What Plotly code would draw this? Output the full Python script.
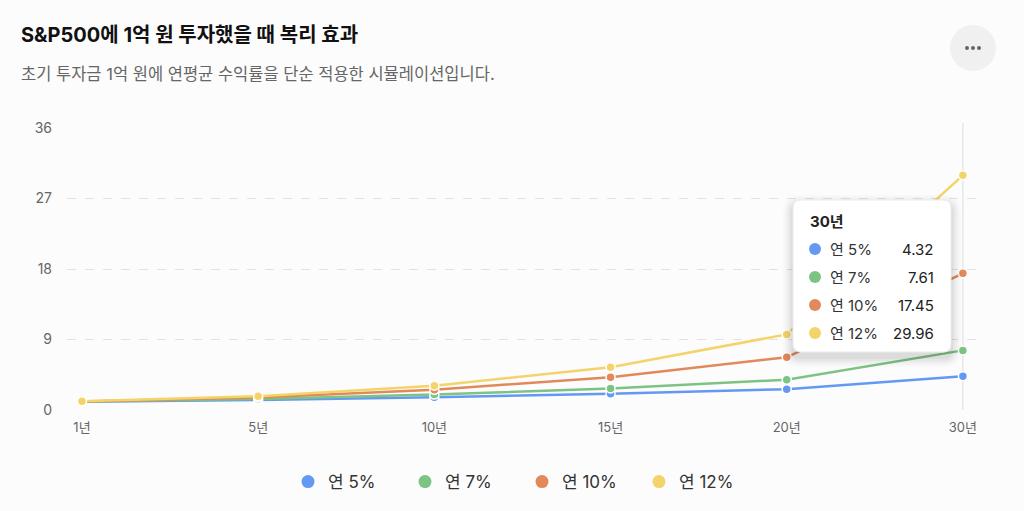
import plotly.graph_objects as go

# data (억 원 after N years)
years = ["1년", "5년", "10년", "15년", "20년", "30년"]
series_names = ["연 5%", "연 7%", "연 10%", "연 12%"]
rate5 = [1.05, 1.28, 1.63, 2.08, 2.65, 4.32]
rate7 = [1.07, 1.40, 1.97, 2.76, 3.87, 7.61]
rate10 = [1.10, 1.61, 2.59, 4.18, 6.73, 17.45]
rate12 = [1.12, 1.76, 3.11, 5.47, 9.65, 29.96]
y_ticks = [0, 9, 18, 27, 36]

colors = ["#6399F3", "#7DC383", "#E2895C", "#F3D46A"]
FONT = "Inter, 'Noto Sans CJK KR', sans-serif"
W, H = 1024, 511
L, R, T, B = 67, 44, 128, 101


def px(x):
    return (x - L) / (W - L - R)


def py(y):
    return (H - B - y) / (H - T - B)


fig = go.Figure()
all_series = [rate5, rate7, rate10, rate12]
for name, vals, c in zip(series_names, all_series, colors):
    fig.add_trace(go.Scatter(
        x=years, y=vals, mode="lines+markers", name=name, showlegend=False,
        line=dict(color=c, width=2.5),
        marker=dict(size=9, color=c, line=dict(color="white", width=1.5)),
    ))
    # legend-only entries, dots without the line
    fig.add_trace(go.Scatter(
        x=[None], y=[None], mode="markers", name=name,
        marker=dict(size=13, color=c),
    ))

# hover crosshair at the last category
fig.add_shape(type="line", xref="x", yref="paper", x0=years[-1], x1=years[-1],
              y0=0, y1=py(123), line=dict(color="#dcdcdc", width=1), layer="below")

# tooltip box (drawn in pixel positions converted to paper)
bx0, bx1, by0, by1 = 793, 951, 200, 352


def rounded(x0, x1, y0, y1, r):
    X0, X1 = px(x0), px(x1)
    Y0, Y1 = py(y1), py(y0)
    rx = r / (W - L - R)
    ry = r / (H - T - B)
    return (f"M {X0+rx},{Y0} L {X1-rx},{Y0} Q {X1},{Y0} {X1},{Y0+ry} "
            f"L {X1},{Y1-ry} Q {X1},{Y1} {X1-rx},{Y1} L {X0+rx},{Y1} "
            f"Q {X0},{Y1} {X0},{Y1-ry} L {X0},{Y0+ry} Q {X0},{Y0} {X0+rx},{Y0} Z")


for i, a in enumerate([0.015, 0.02, 0.025, 0.03, 0.035]):
    g = 10 - 2 * i
    fig.add_shape(type="path", xref="paper", yref="paper",
                  path=rounded(bx0 - g, bx1 + g, by0 - g + 5, by1 + g + 5, 8 + g),
                  fillcolor=f"rgba(0,0,0,{a})", line=dict(width=0), layer="above")
fig.add_shape(type="path", xref="paper", yref="paper",
              path=rounded(bx0, bx1, by0, by1, 8),
              fillcolor="white", line=dict(color="#ececec", width=1), layer="above")

annotations = [
    dict(text="<b>" + years[-1] + "</b>", x=px(808), y=py(221), xanchor="left",
         font=dict(size=15, color="#222")),
]
for i, (name, vals, c) in enumerate(zip(series_names, all_series, colors)):
    yy = 249 + 28 * i
    fig.add_shape(type="circle", xref="paper", yref="paper",
                  xsizemode="pixel", ysizemode="pixel",
                  xanchor=px(815), yanchor=py(yy),
                  x0=-6, x1=6, y0=-6, y1=6,
                  fillcolor=c, line=dict(width=0), layer="above")
    annotations.append(dict(text=name, x=px(828), y=py(yy), xanchor="left",
                            font=dict(size=15, color="#333")))
    annotations.append(dict(text=f"{vals[-1]:.2f}", x=px(936), y=py(yy), xanchor="right",
                            font=dict(size=15, color="#222")))

# title, subtitle
annotations += [
    dict(text="<b>S&P500에 1억 원 투자했을 때 복리 효과</b>",
         x=px(19), y=py(35), xanchor="left", font=dict(size=20, color="#111")),
    dict(text="초기 투자금 1억 원에 연평균 수익률을 단순 적용한 시뮬레이션입니다.",
         x=px(19), y=py(74), xanchor="left", font=dict(size=16.5, color="#666")),
]
for a in annotations:
    a.setdefault("xref", "paper")
    a.setdefault("yref", "paper")
    a["showarrow"] = False
    a["yanchor"] = "middle"

# the "..." button
fig.add_shape(type="circle", xref="paper", yref="paper",
              xsizemode="pixel", ysizemode="pixel", xanchor=px(973), yanchor=py(48),
              x0=-23, x1=23, y0=-23, y1=23,
              fillcolor="#f0f0f0", line=dict(width=0), layer="above")
for dx in (-6, 0, 6):
    fig.add_shape(type="circle", xref="paper", yref="paper",
                  xsizemode="pixel", ysizemode="pixel", xanchor=px(973 + dx), yanchor=py(48),
                  x0=-2, x1=2, y0=-2, y1=2,
                  fillcolor="#666", line=dict(width=0), layer="above")

fig.update_layout(
    width=W, height=H,
    margin=dict(l=L, r=R, t=T, b=B),
    paper_bgcolor="#fcfcfc", plot_bgcolor="#fcfcfc",
    font=dict(family=FONT, color="#666"),
    annotations=annotations,
    legend=dict(orientation="h", xref="container", yref="container",
                x=0.5 + 10 / W, xanchor="center", y=1 - 482 / H, yanchor="middle",
                font=dict(size=17, color="#333"), entrywidth=72,
                bgcolor="rgba(0,0,0,0)"),
    xaxis=dict(type="category", range=[-0.085, 5.097], showgrid=False,
               zeroline=False, showline=False, ticks="",
               tickfont=dict(size=13, color="#666"), ticklabelstandoff=8),
    yaxis=dict(range=[0, 36], tickvals=y_ticks, showgrid=True,
               gridcolor="#e2e2e2", griddash="dash", gridwidth=1,
               zeroline=False, showline=False, ticks="",
               tickfont=dict(size=14, color="#666"), ticklabelstandoff=14),
    hovermode=False,
)

fig.write_html("out.html", config={"displayModeBar": False},
               post_script="document.body.style.margin='0px';")
